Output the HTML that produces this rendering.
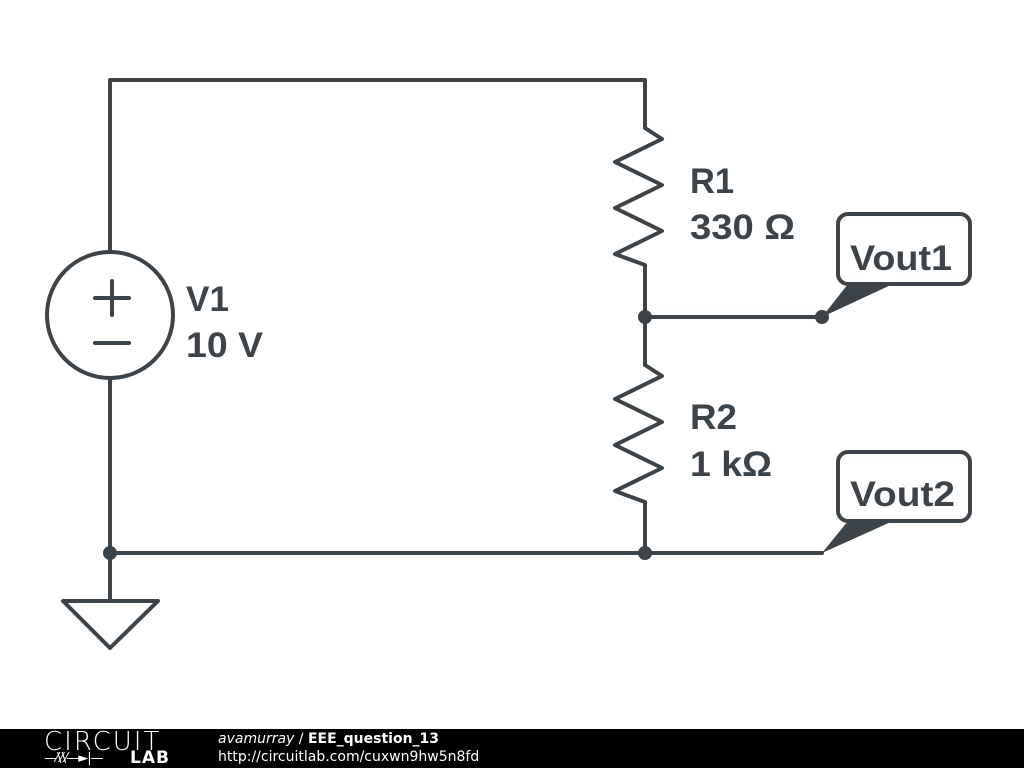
<!DOCTYPE html>
<html><head><style>
body{margin:0;width:1024px;height:768px;background:#fff;overflow:hidden;position:relative;font-family:"DejaVu Sans","Liberation Sans",sans-serif}
#foot{position:absolute;left:0;top:729px;width:1024px;height:39px;background:#000;color:#fff}
</style></head><body>
<svg width="1024" height="729" style="position:absolute;left:0;top:0">
<g stroke="#3d4449" stroke-width="4" fill="none" stroke-linejoin="round" stroke-linecap="round">
<polyline points="110,252 110,80 645,80 645,128"/>
<polyline points="645,128 662,139 615,162 662,185 615,208 662,231 615,254 645,265 645,365"/>
<polyline points="645,365 662,376 615,399 662,422 615,445 662,468 615,491 645,502 645,553"/>
<polyline points="110,378 110,600"/>
<polyline points="110,553 822,553"/>
<polyline points="645,317 822,317"/>
<circle cx="110" cy="315" r="63"/>
<line x1="95" y1="298" x2="129" y2="298"/><line x1="112" y1="281" x2="112" y2="315"/>
<line x1="95" y1="343" x2="129" y2="343"/>
<polygon points="63,601 158,601 110,648"/>
<rect x="838" y="214" width="132" height="70" rx="10"/>
<rect x="838" y="452" width="132" height="69" rx="10"/>
</g>
<g fill="#3d4449">
<circle cx="645" cy="317" r="7"/><circle cx="822" cy="317" r="7"/>
<circle cx="645" cy="553" r="7"/><circle cx="110" cy="553" r="7"/>
<polygon points="848,284 893,284 822,317"/>
<polygon points="848,521 893,521 822,553"/>
</g>
<g fill="#3d4449" font-family="Liberation Sans,sans-serif" font-weight="bold" font-size="35">
<text x="690" y="193" textLength="44" lengthAdjust="spacingAndGlyphs">R1</text><text x="690" y="239" textLength="105" lengthAdjust="spacingAndGlyphs">330 Ω</text>
<text x="690" y="429" textLength="47" lengthAdjust="spacingAndGlyphs">R2</text><text x="690" y="476" textLength="82" lengthAdjust="spacingAndGlyphs">1 kΩ</text>
<text x="186" y="311" textLength="43" lengthAdjust="spacingAndGlyphs">V1</text><text x="186" y="357" textLength="77" lengthAdjust="spacingAndGlyphs">10 V</text>
<text x="850" y="270" textLength="102" lengthAdjust="spacingAndGlyphs">Vout1</text><text x="850" y="506" textLength="105" lengthAdjust="spacingAndGlyphs">Vout2</text>
</g>
</svg>
<div id="foot">
<div style="position:absolute;left:44px;top:0;font-size:26px;letter-spacing:2px;font-weight:300;line-height:26px">CIRCUIT</div>
<div style="position:absolute;left:44px;top:22px;font-size:13px;line-height:16px;width:130px">
<span style="letter-spacing:-1px">—⁄\⁄\⁄—►|—</span><b style="font-size:17px;position:absolute;left:86px;top:-1px;letter-spacing:1px">LAB</b></div>
<div style="position:absolute;left:218px;top:1px;font-size:14px;line-height:18px"><i>avamurray</i> / <b>EEE_question_13</b></div>
<div style="position:absolute;left:218px;top:19px;font-size:14px;line-height:18px">http://circuitlab.com/cuxwn9hw5n8fd</div>
</div>
</body></html>
